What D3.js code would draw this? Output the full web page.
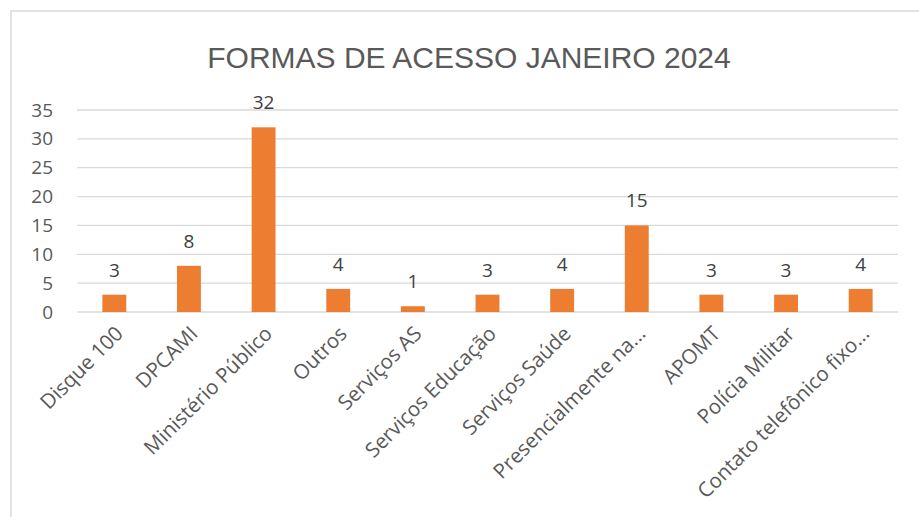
<!DOCTYPE html>
<html>
<head>
<meta charset="utf-8">
<script src="https://cdn.jsdelivr.net/npm/d3@7"></script>
<style>
  body { margin: 0; background: #fff; }
  text { font-family: "Open Sans", "Liberation Sans", sans-serif; fill: #595959; }
</style>
</head>
<body>
<div id="chart"></div>
<script>
// categories on the x axis
var categories = ["Disque 100", "DPCAMI", "Ministério Público", "Outros", "Serviços AS",
  "Serviços Educação", "Serviços Saúde", "Presencialmente na...", "APOMT",
  "Polícia Militar", "Contato telefônico fixo..."];

// number of accesses per category
var values = [3, 8, 32, 4, 1, 3, 4, 15, 3, 3, 4];

// y tick labels
var yTicks = [0, 5, 10, 15, 20, 25, 30, 35];

var chartTitle = "FORMAS DE ACESSO JANEIRO 2024";

var W = 919, H = 517;
var plotLeft = 77, plotRight = 898, plotTop = 110, plotBottom = 312;

var svg = d3.select("#chart")
  .append("svg")
  .attr("width", W)
  .attr("height", H);

// chart frame (only top and left visible in the crop)
svg.append("rect")
  .attr("x", 11)
  .attr("y", 11)
  .attr("width", W + 20)
  .attr("height", H + 20)
  .attr("fill", "#fff")
  .attr("stroke", "#d9d9d9")
  .attr("stroke-width", 1.5);

var x = d3.scaleBand()
  .domain(categories)
  .range([plotLeft, plotRight])
  .paddingInner(0.68)
  .paddingOuter(0.34);

var y = d3.scaleLinear()
  .domain([0, 35])
  .range([plotBottom, plotTop]);

// gridlines
svg.append("g")
  .selectAll("line")
  .data(yTicks)
  .enter()
  .append("line")
  .attr("x1", plotLeft)
  .attr("x2", plotRight)
  .attr("y1", d => y(d))
  .attr("y2", d => y(d))
  .attr("stroke", "#d9d9d9")
  .attr("stroke-width", 1.3);

// y axis labels
var yAxis = d3.axisLeft(y).tickValues(yTicks).tickSize(0).tickPadding(24);
var yg = svg.append("g")
  .attr("transform", "translate(" + plotLeft + ",0)")
  .call(yAxis);
yg.select(".domain").remove();
yg.selectAll("text")
  .attr("font-size", 19)
  .attr("fill", "#595959")
  .style("font-family", "Open Sans, sans-serif");

// bars
svg.append("g")
  .selectAll("rect")
  .data(values)
  .enter()
  .append("rect")
  .attr("x", (d, i) => x(categories[i]))
  .attr("y", d => y(d))
  .attr("width", x.bandwidth())
  .attr("height", d => y(0) - y(d))
  .attr("fill", "#ed7d31");

// value labels
svg.append("g")
  .selectAll("text")
  .data(values)
  .enter()
  .append("text")
  .attr("x", (d, i) => x(categories[i]) + x.bandwidth() / 2)
  .attr("y", d => y(d) - 18)
  .attr("text-anchor", "middle")
  .attr("font-size", 19)
  .style("fill", "#404040")
  .text(d => d);

// x axis labels, rotated
var xAxis = d3.axisBottom(x).tickSize(0).tickPadding(0);
var xg = svg.append("g")
  .attr("transform", "translate(0," + plotBottom + ")")
  .call(xAxis);
xg.select(".domain").remove();
xg.selectAll("text")
  .attr("font-size", 20.5)
  .attr("fill", "#595959")
  .style("font-family", "Open Sans, sans-serif")
  .attr("text-anchor", "end")
  .attr("dy", 0)
  .attr("transform", "translate(10,23) rotate(-45)");

// title
svg.append("text")
  .attr("x", 469)
  .attr("y", 68)
  .attr("text-anchor", "middle")
  .attr("font-size", 30)
  .style("font-family", "Liberation Sans, sans-serif")
  .text(chartTitle);
</script>
</body>
</html>
